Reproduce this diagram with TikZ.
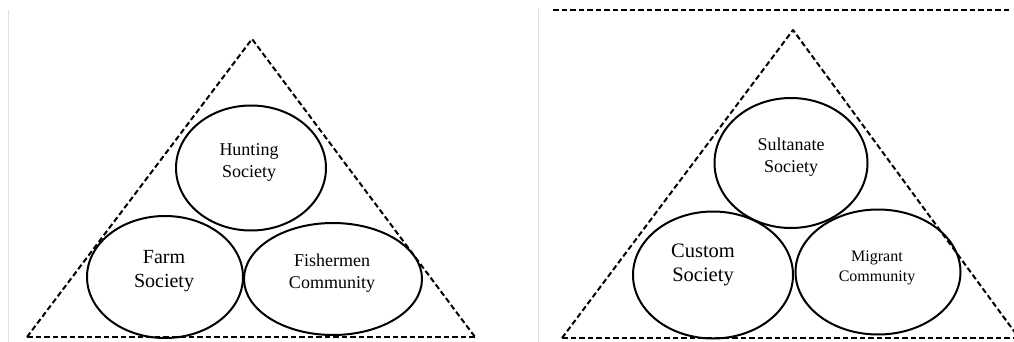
\documentclass[tikz,border=0pt]{standalone}
\usepackage{fontspec}
\setmainfont{Liberation Serif}
\usetikzlibrary{shapes.geometric}
\tikzset{
	circ/.style={draw,ellipse,line width=2pt,inner sep=0pt},
	edge/.style={dashed,line width=2pt,dash pattern=on 5.5pt off 3pt},
	lbl/.style={align=center,font=\fontsize{18}{22}\selectfont}
}
\begin{document}
\begin{tikzpicture}[x=1pt,y=-1pt,line join=round,line cap=butt]
	\useasboundingbox (0,0) rectangle (1014,342);
	% rand links
	\draw[gray!25,line width=0.8pt] (8,10)--(8,342);
	\draw[gray!25,line width=0.8pt] (538,9)--(538,342);
	% linke pyramide
	\coordinate (a1) at (252,39);
	\coordinate (b1) at (27,337);
	\coordinate (c1) at (475,337);
	\draw[edge] (b1)--(a1)--(c1);
	\draw[edge] (b1)--(c1);
	\node[circ,minimum width=150,minimum height=125] (hunt) at (251,168) {};
	\node[circ,minimum width=156,minimum height=122] (farm) at (165,277) {};
	\node[circ,minimum width=178,minimum height=112] (fish) at (333,279) {};
	\node[lbl] (thunt) at (249,162) {Hunting\\Society};
	\node[lbl,font=\fontsize{20}{24}\selectfont] (tfarm) at (164,271) {Farm\\Society};
	\node[lbl] (tfish) at (332,273) {Fishermen\\Community};
	% rechte pyramide
	\coordinate (t1) at (553,10);
	\coordinate (t2) at (1010,10);
	\draw[edge] (t1)--(t2);
	\coordinate (a2) at (793,30);
	\coordinate (b2) at (562,338);
	\coordinate (c2) at (1019,338);
	\draw[edge] (b2)--(a2)--(c2);
	\draw[edge] (b2)--(c2);
	\node[circ,minimum width=153,minimum height=130] (sult) at (791,163) {};
	\node[circ,minimum width=160,minimum height=127] (cust) at (713,275) {};
	\node[circ,minimum width=165,minimum height=125] (migr) at (878,272) {};
	\node[lbl] (tsult) at (791,157) {Sultanate\\Society};
	\node[lbl,font=\fontsize{20.5}{24}\selectfont] (tcust) at (703,265) {Custom\\Society};
	\node[lbl,font=\fontsize{16}{20}\selectfont] (tmigr) at (877,268) {Migrant\\Community};
\end{tikzpicture}
\end{document}
